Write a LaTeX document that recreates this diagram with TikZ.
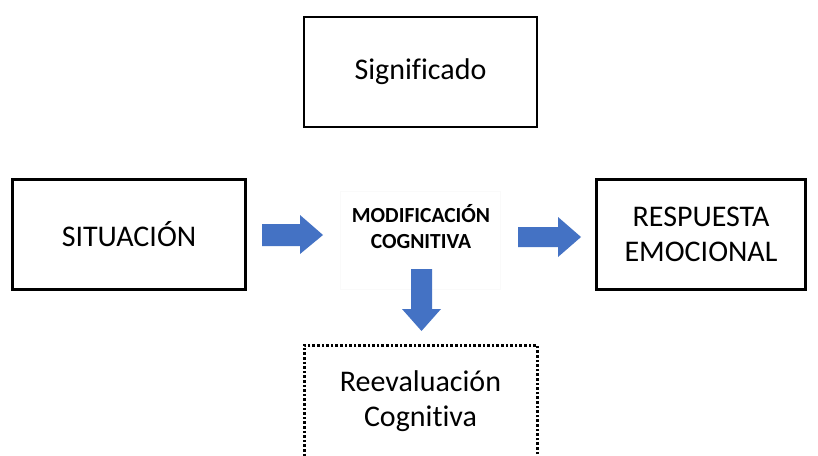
\documentclass[tikz,border=0pt]{standalone}
\usepackage{fontspec}
\setmainfont[Ligatures=NoCommon]{Carlito}
\begin{document}
\begin{tikzpicture}[x=1pt,y=-1pt,
  box/.style={draw=black,line width=2.4pt,minimum width=233pt,minimum height=110pt,inner sep=0pt,align=center,font=\fontsize{30}{35}\selectfont},
  dotbox/.style={draw=black,line width=3pt,dash pattern=on 2.6pt off 2pt,minimum width=233pt,minimum height=120pt,inner sep=0pt},
  blue arrow/.style={fill=arrowblue,draw=none},
  lbl/.style={align=center,font=\fontsize{30}{35}\selectfont}]
\definecolor{arrowblue}{HTML}{4472C4}
\clip (0,0) rectangle (818,455);
\fill[white] (0,0) rectangle (818,455);
% boxes
\node[box] (sig) at (420.5,72) {Significado};
\node[box] (sit) at (129,234.5) {SITUACIÓN};
\node[box,minimum width=209pt] (resp) at (701,234.5) {RESPUESTA\\EMOCIONAL};
\node[draw=gray!4,line width=0.6pt,minimum width=160pt,minimum height=98pt] (mod) at (420,240) {};
\node[align=center,font=\bfseries\fontsize{21.5}{26}\selectfont] (modtxt) at (421,227) {MODIFICACIÓN\\COGNITIVA};
\node[dotbox] (reev) at (420.5,405) {};
\node[lbl] (reevtxt) at (420.5,401) {Reevaluación\\Cognitiva};
% arrows
\coordinate (a1) at (262,224);
\fill[blue arrow] (a1) -- (300,224) -- (300,215) -- (323,235) -- (300,254) -- (300,246) -- (262,246) -- cycle;
\coordinate (a2) at (518,227);
\fill[blue arrow] (a2) -- (558,227) -- (558,217) -- (581,237) -- (558,257) -- (558,247) -- (518,247) -- cycle;
\coordinate (a3) at (411,269);
\fill[blue arrow] (a3) -- (432,269) -- (432,309) -- (441,309) -- (421.5,331) -- (402,309) -- (411,309) -- cycle;
\end{tikzpicture}
\end{document}
